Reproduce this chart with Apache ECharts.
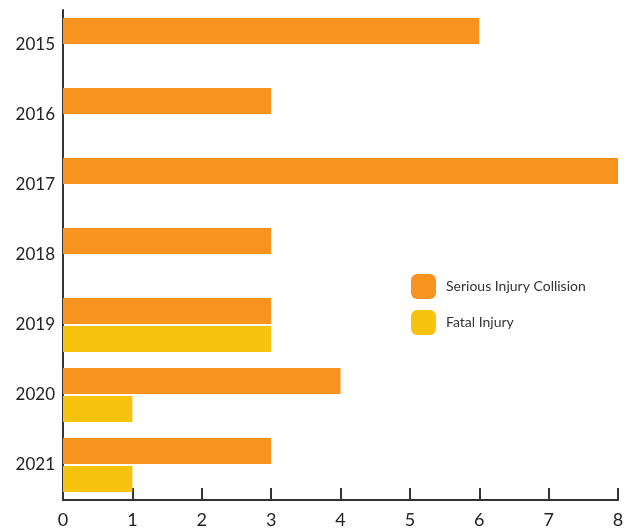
<!DOCTYPE html>
<html>
<head>
<meta charset="utf-8">
<script src="https://cdn.jsdelivr.net/npm/echarts@6/dist/echarts.min.js"></script>
<style>
  html, body { margin: 0; padding: 0; background: #fff; }
  #chart { width: 632px; height: 529px; }
</style>
</head>
<body>
<div id="chart"></div>
<script>
  var years = ['2015', '2016', '2017', '2018', '2019', '2020', '2021'];
  var seriousInjury = [6, 3, 8, 3, 3, 4, 3];
  var fatalInjury = ['-', '-', '-', '-', 3, 1, 1];
  var xTicks = [0, 1, 2, 3, 4, 5, 6, 7, 8];

  var chart = echarts.init(document.getElementById('chart'));

  var option = {
    backgroundColor: '#fff',
    textStyle: { fontFamily: 'Lato, sans-serif' },
    grid: { left: 63, right: 14, top: 10, bottom: 29 },
    legend: {
      orient: 'vertical',
      left: 406,
      top: 269,
      itemWidth: 25,
      itemHeight: 25,
      itemGap: 11,
      icon: 'roundRect',
      textStyle: { fontSize: 14, color: '#333', padding: [0, 0, 0, 5] },
      data: ['Serious Injury Collision', 'Fatal Injury']
    },
    xAxis: {
      type: 'value',
      min: xTicks[0],
      max: xTicks[xTicks.length - 1],
      interval: 1,
      splitLine: { show: false },
      axisLine: { show: true, lineStyle: { color: '#333', width: 2 } },
      axisTick: { show: true, inside: true, length: 12, lineStyle: { color: '#333', width: 2 } },
      axisLabel: { color: '#222', fontSize: 18, margin: 11 }
    },
    yAxis: {
      type: 'category',
      inverse: true,
      data: years,
      axisLine: { show: true, lineStyle: { color: '#333', width: 2 } },
      axisTick: { show: false },
      axisLabel: { color: '#222', fontSize: 17, margin: 8, padding: [6, 0, 0, 0] }
    },
    series: [
      {
        name: 'Serious Injury Collision',
        type: 'bar',
        barWidth: 26,
        barGap: '8%',
        itemStyle: { color: '#F7931E' },
        data: seriousInjury
      },
      {
        name: 'Fatal Injury',
        type: 'bar',
        barWidth: 26,
        barGap: '8%',
        itemStyle: { color: '#F7C30C' },
        data: fatalInjury
      }
    ]
  };

  chart.setOption(option);
</script>
</body>
</html>
